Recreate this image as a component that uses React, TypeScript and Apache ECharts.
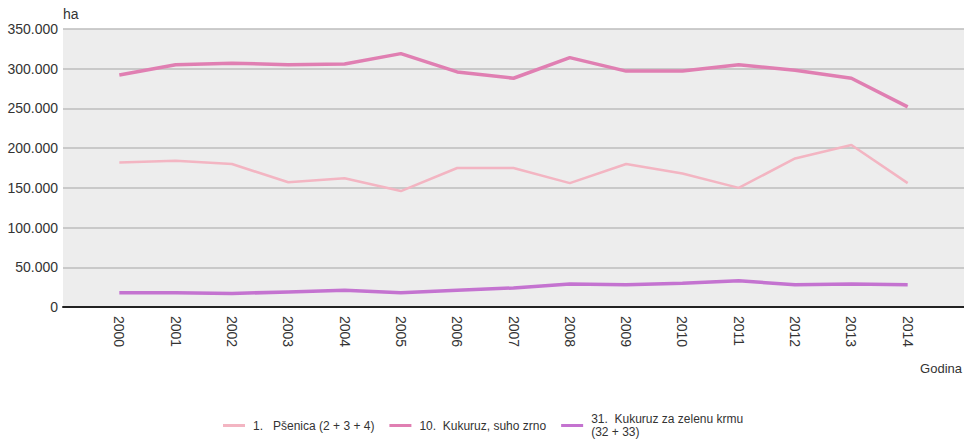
import React, { useEffect, useRef } from "react";
import * as echarts from "echarts";

const years = [2000, 2001, 2002, 2003, 2004, 2005, 2006, 2007, 2008, 2009, 2010, 2011, 2012, 2013, 2014];
const psenica = [182000, 184000, 180000, 157000, 162000, 146000, 175000, 175000, 156000, 180000, 168000, 150000, 187000, 204000, 156000];
const kukuruzSuho = [292000, 305000, 307000, 305000, 306000, 319000, 296000, 288000, 314000, 297000, 297000, 305000, 298000, 288000, 252000];
const kukuruzZeleni = [18000, 18000, 17000, 19000, 21000, 18000, 21000, 24000, 29000, 28000, 30000, 33000, 28000, 29000, 28000];
const seriesNames = ["1.   Pšenica (2 + 3 + 4)", "10.  Kukuruz, suho zrno", "31.  Kukuruz za zelenu krmu\n(32 + 33)"];
const seriesColors = ["#f3b5c2", "#e07fb2", "#c473d0"];
const seriesWidths = [2.5, 3.5, 3.5];
const yMin = 0;
const yMax = 350000;
const yStep = 50000;

const FONT = "Arial, 'Liberation Sans', sans-serif";

export default function App() {
  const ref = useRef<HTMLDivElement>(null);
  useEffect(() => {
    if (!ref.current) return;
    const chart = echarts.init(ref.current, undefined, { renderer: "svg" });
    const allData = [psenica, kukuruzSuho, kukuruzZeleni];
    chart.setOption({
      animation: false,
      textStyle: { fontFamily: FONT },
      grid: { left: 63, right: 0, top: 29, bottom: 140, show: true, backgroundColor: "#ededed", borderWidth: 0 },
      xAxis: {
        type: "value",
        min: years[0] - 1,
        max: years[years.length - 1] + 1,
        interval: 1,
        axisLine: { show: true, lineStyle: { color: "#222", width: 2 } },
        axisTick: { show: false },
        splitLine: { show: false },
        axisLabel: {
          rotate: -90,
          margin: 9,
          fontSize: 14,
          color: "#333",
          fontFamily: FONT,
          formatter: (v: number) => (years.includes(v) ? String(v) : ""),
        },
      },
      yAxis: {
        type: "value",
        min: yMin,
        max: yMax,
        interval: yStep,
        name: "ha",
        nameLocation: "end",
        nameGap: 8,
        nameTextStyle: { align: "left", fontSize: 14, color: "#333", fontFamily: FONT },
        axisLine: { show: false },
        axisTick: { show: false },
        splitLine: { lineStyle: { color: "#bdbdbd", width: 1.5 } },
        axisLabel: {
          fontSize: 14,
          color: "#333",
          margin: 5,
          fontFamily: FONT,
          formatter: (v: number) => (v === 0 ? "0" : String(v / 1000) + ".000"),
        },
      },
      legend: {
        left: 218,
        top: 407,
        icon: "rect",
        itemWidth: 22,
        itemHeight: 3,
        itemGap: 15,
        textStyle: { fontSize: 12, color: "#333", fontFamily: FONT, lineHeight: 13.5, padding: [0, 0, 0, 3] },
        data: seriesNames,
      },
      graphic: [
        {
          type: "text",
          right: 2,
          top: 362,
          style: { text: "Godina", font: `13px ${FONT}`, fill: "#333" },
        },
      ],
      series: allData.map((d, i) => ({
        type: "line",
        name: seriesNames[i],
        data: years.map((y, j) => [y, d[j]]),
        showSymbol: false,
        symbol: "none",
        color: seriesColors[i],
        lineStyle: { color: seriesColors[i], width: seriesWidths[i] },
      })),
    });
    return () => chart.dispose();
  }, []);
  return <div ref={ref} style={{ width: 964, height: 447, position: "absolute", left: 0, top: 0 }} />;
}
